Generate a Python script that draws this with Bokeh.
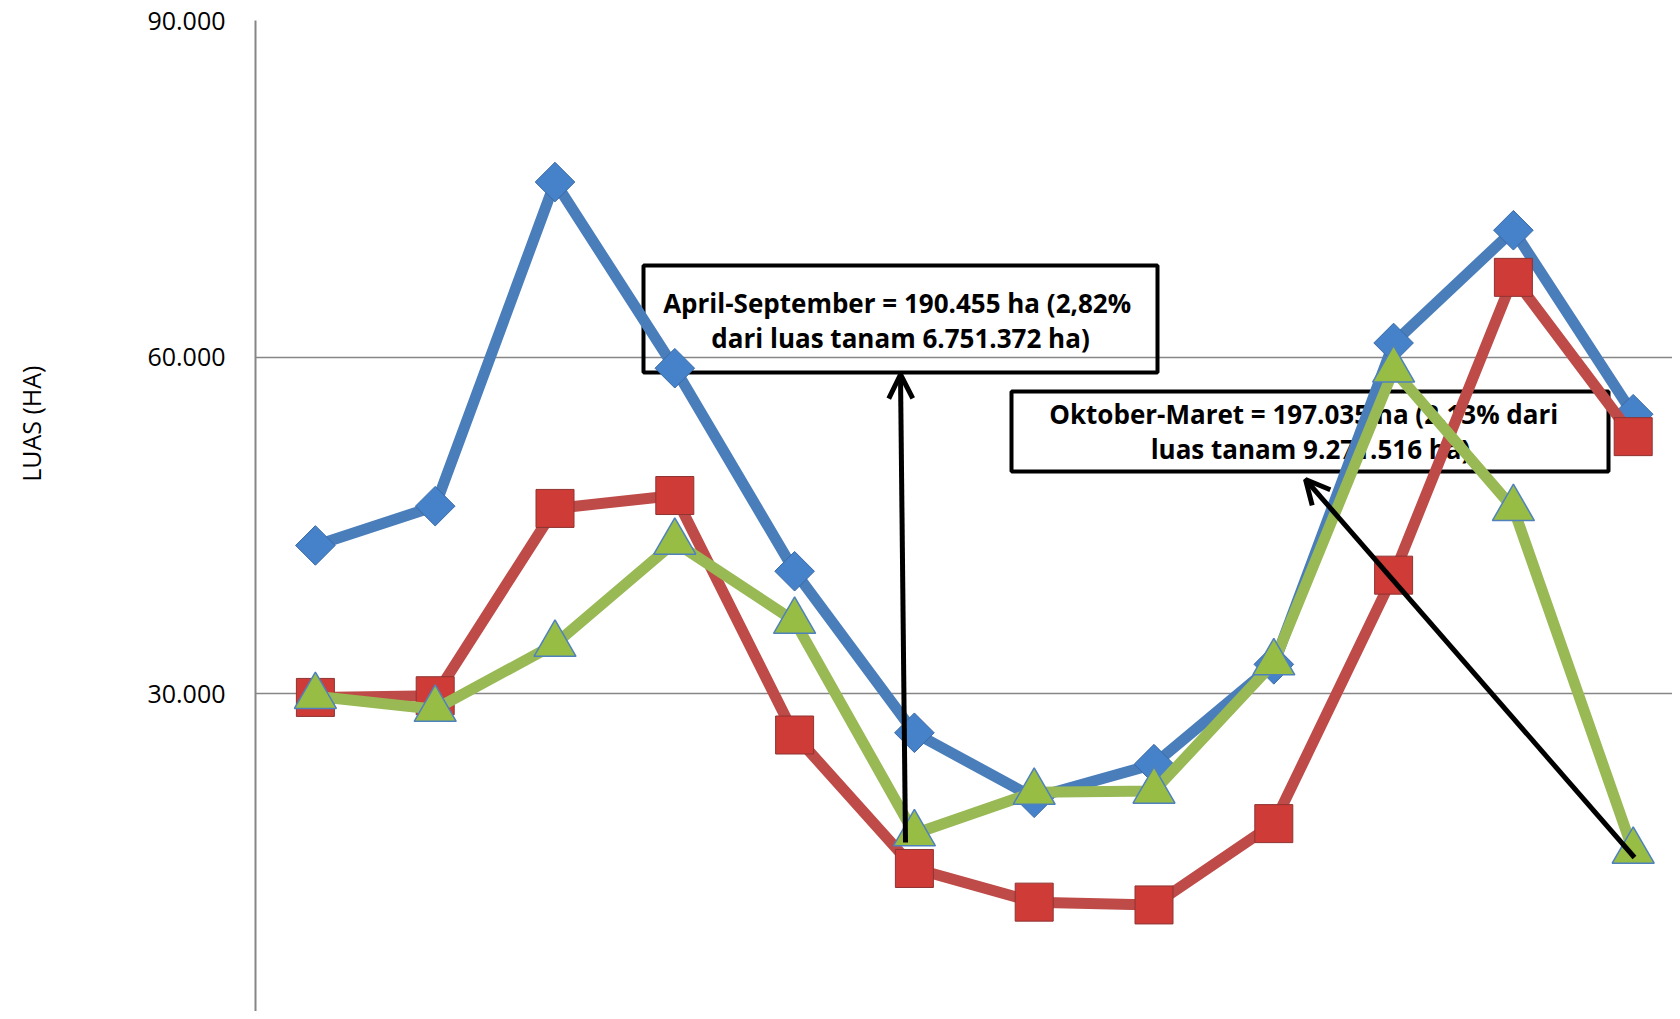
import math
from bokeh.plotting import figure
from bokeh.layouts import row
from bokeh.models import FixedTicker, BoxAnnotation, Label, Arrow, OpenHead, Range1d
from bokeh.embed import file_html
from bokeh.resources import INLINE

# ---- data (luas, ha), 12 periods ----
seri_1 = [43200, 46700, 75600, 59000, 40900, 26500, 20700, 23700, 32600, 61250, 71300, 54900]
seri_2 = [29650, 29800, 46500, 47650, 26300, 14400, 11400, 11150, 18400, 40550, 67100, 52900]
seri_3 = [29750, 28600, 34400, 43500, 36450, 17500, 21200, 21300, 32750, 58850, 46500, 15950]
y_ticks = [30000, 60000, 90000]
y_tick_labels = ["30.000", "60.000", "90.000"]
y_title = "LUAS  (HA)"
note_1 = ["April-September = 190.455 ha  (2,82%", "dari luas tanam 6.751.372 ha)"]
note_2 = ["Oktober-Maret =  197.035 ha (2,13%  dari", "luas tanam 9.271.516 ha)"]

xs = [i + 0.5 for i in range(len(seri_1))]

# ---- geometry ----
TOTAL_W, H = 1672, 1011
LW = 130                 # width of the strip holding the axis title
W = TOTAL_W - LW         # main plot width
BL, BT = 125, 20         # borders of the main plot
FRAME_LEFT = LW + BL
PX_PER_X = 119.8
PX_PER_30K = 336.5
frame_w = W - BL
frame_h = H - BT
x_end = frame_w / PX_PER_X
y_start = 90000 - frame_h * 30000 / PX_PER_30K

def dx(px):  # page px -> data x
    return (px - FRAME_LEFT) / PX_PER_X

def dy(py):  # page px -> data y
    return 90000 - (py - BT) * 30000 / PX_PER_30K

# ---- axis-title strip ----
t = figure(width=LW, height=H, output_backend="svg", toolbar_location=None,
           x_range=Range1d(0, LW), y_range=Range1d(0, H),
           x_axis_location=None, y_axis_location=None,
           min_border_left=0, min_border_right=0, min_border_top=0, min_border_bottom=0)
t.outline_line_color = None
t.grid.visible = False
t.add_layout(Label(x=30, y=H - 408, text=y_title, angle=math.pi / 2,
                   text_align="center", text_baseline="middle",
                   text_font="Open Sans", text_font_size="25px", text_color="black"))

# ---- main plot ----
p = figure(width=W, height=H, output_backend="svg", toolbar_location=None,
           x_range=Range1d(0, x_end), y_range=Range1d(y_start, 90000),
           x_axis_location=None, min_border_left=BL, min_border_top=BT,
           min_border_right=0, min_border_bottom=0)
p.outline_line_color = None
p.background_fill_color = "white"
p.border_fill_color = "white"
p.xgrid.visible = False
p.ygrid.grid_line_color = "#868686"
p.ygrid.grid_line_width = 1.3
p.yaxis.ticker = FixedTicker(ticks=y_ticks)
p.yaxis.major_label_overrides = {t_: l for t_, l in zip(y_ticks, y_tick_labels)}
p.yaxis.axis_line_color = "#868686"
p.yaxis.axis_line_width = 2
p.yaxis.major_tick_out = 0
p.yaxis.major_tick_in = 0
p.yaxis.minor_tick_out = 0
p.yaxis.minor_tick_in = 0
p.yaxis.major_label_standoff = 30
p.yaxis.major_label_text_font = "Open Sans"
p.yaxis.major_label_text_font_size = "25px"
p.yaxis.major_label_text_color = "black"

# annotation boxes (under the series)
for (l, r, tp, b) in [(643, 1157, 265, 372), (1011, 1608, 391, 471)]:
    p.add_layout(BoxAnnotation(left=dx(l), right=dx(r), top=dy(tp), bottom=dy(b),
                               fill_color=None, fill_alpha=0, line_color="black",
                               line_alpha=1.0, line_width=4, level="underlay"))
for lines, cx, cys in [(note_1, 900, (302, 337)), (note_2, 1310, (413, 448))]:
    for txt, cy in zip(lines, cys):
        p.add_layout(Label(x=dx(cx), y=dy(cy), text=txt, text_align="center",
                           text_baseline="middle", text_font="Open Sans",
                           text_font_style="bold", text_font_size="26px",
                           text_color="black", level="underlay"))

# series
p.line(xs, seri_1, line_color="#4A7EBB", line_width=11, line_join="round")
p.scatter(xs, seri_1, marker="square", size=28, angle=math.pi / 4,
          fill_color="#4682CA", line_color="#3A6AA6", line_width=1)
p.line(xs, seri_2, line_color="#BE4B48", line_width=11, line_join="round")
p.scatter(xs, seri_2, marker="square", size=38,
          fill_color="#CF3B37", line_color="#8E3432", line_width=1)
p.line(xs, seri_3, line_color="#98B954", line_width=11, line_join="round")
p.scatter(xs, seri_3, marker="triangle", size=42,
          fill_color="#98BD45", line_color="#4F81BD", line_width=1.5)

# arrows
for (x0, y0, x1, y1) in [(905, 842, 900, 374), (1634, 857, 1305, 479)]:
    p.add_layout(Arrow(end=OpenHead(size=24, line_width=5, line_color="black"),
                       x_start=dx(x0), y_start=dy(y0), x_end=dx(x1), y_end=dy(y1),
                       line_width=5, line_color="black"))

open("out.html", "w").write(file_html(row(t, p), INLINE))
